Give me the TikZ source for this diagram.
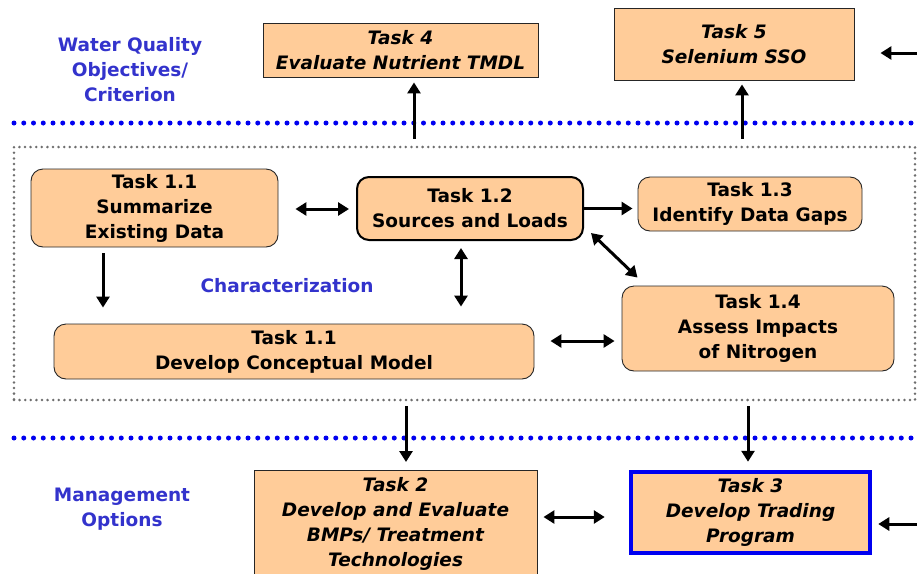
\documentclass[tikz,border=0pt]{standalone}
\usepackage{fontspec}
\setmainfont{DejaVu Sans}
\usetikzlibrary{arrows.meta}
\definecolor{peach}{RGB}{255,204,153}
\definecolor{lblue}{RGB}{51,51,204}
\definecolor{dotblue}{RGB}{0,0,240}
\definecolor{dotgray}{RGB}{110,110,110}
\tikzset{
  box/.style={draw=black!85, line width=0.9pt, fill=peach, align=center, inner sep=0pt,
    font=\bfseries\fontsize{18.5}{25}\selectfont},
  rbox/.style={box, rounded corners=12pt},
  ibox/.style={box, font=\bfseries\itshape\fontsize{18.5}{25}\selectfont},
  lab/.style={text=lblue, align=center, font=\bfseries\fontsize{18.5}{25}\selectfont},
  arr/.style={line width=3pt, -{Triangle[length=11pt,width=13pt]}},
  dbl/.style={line width=3pt, {Triangle[length=11pt,width=13pt]}-{Triangle[length=11pt,width=13pt]}},
  bluedots/.style={dotblue, line width=5pt, line cap=round, dash pattern=on 0pt off 9.75pt},
  graydots/.style={draw=dotgray, line width=2.8pt, line cap=round, dash pattern=on 0pt off 5.6pt},
}
\begin{document}
\begin{tikzpicture}[x=1pt,y=-1pt]
\useasboundingbox (0,0) rectangle (917,573);
% dotted separators
\draw[bluedots] (14,123) -- (917,123);
\draw[bluedots] (14,438) -- (917,438);
\node[graydots, minimum width=901pt, minimum height=253pt, inner sep=0pt] (char) at (464.5,273.5) {};
% labels
\node[lab] (wq) at (130,70) {Water Quality\\Objectives/\\Criterion};
\node[lab] (mo) at (122,509) {Management\\Options};
\node[lab] (ch) at (287,286) {Characterization};
% boxes
\node[ibox, minimum width=275pt, minimum height=54pt] (t4) at (400.5,50) {Task 4\\Evaluate Nutrient TMDL};
\node[ibox, minimum width=240pt, minimum height=72pt] (t5) at (734,44) {Task 5\\Selenium SSO};
\node[rbox, minimum width=247pt, minimum height=78pt] (t11) at (154.5,208) {Task 1.1\\Summarize\\Existing Data};
\node[rbox, line width=2pt, draw=black, minimum width=226pt, minimum height=63pt] (t12) at (470,208.5) {Task 1.2\\Sources and Loads};
\node[rbox, minimum width=224pt, minimum height=54pt] (t13) at (750,204) {Task 1.3\\Identify Data Gaps};
\node[rbox, minimum width=272pt, minimum height=85pt] (t14) at (758,328.5) {Task 1.4\\Assess Impacts\\of Nitrogen};
\node[rbox, minimum width=480pt, minimum height=55pt] (tcm) at (294,351.5) {Task 1.1\\Develop Conceptual Model};
\node[ibox, minimum width=283pt, minimum height=108pt, anchor=north] (t2) at (395.5,470) {Task 2\\Develop and Evaluate\\BMPs/ Treatment\\Technologies};
\node[ibox, draw=dotblue, line width=4.5pt, minimum width=239pt, minimum height=81pt] (t3) at (750.5,512.5) {Task 3\\Develop Trading\\Program};
% edge coordinates
\coordinate (e5) at (917,53);
\coordinate (e3) at (917,524);
% connectors
\draw[dbl] ([xshift=17pt,yshift=-1pt]t11.east) -- ([xshift=-7pt,yshift=-0.5pt]t12.west);
\draw[arr] ([xshift=-51.5pt,yshift=-6pt]t11.south) -- ([xshift=-191pt,yshift=16pt]tcm.north);
\draw[dbl] ([xshift=-9pt,yshift=-7pt]t12.south) -- ([xshift=167pt,yshift=17pt]tcm.north);
\draw[arr] (t12.east) -- ([xshift=-5pt]t12.east -| t13.west);
\draw[dbl] ([xshift=7pt,yshift=8pt]t12.south east) -- ([xshift=16pt,yshift=8pt]t14.north west);
\draw[dbl] ([xshift=16pt,yshift=10.5pt]tcm.east) -- ([xshift=-7pt,yshift=-12.5pt]t14.west);
\draw[arr] ([xshift=-50.5pt,yshift=7pt]char.north) -- ([xshift=13.5pt,yshift=-5pt]t4.south);
\draw[arr] ([xshift=277.5pt,yshift=7pt]char.north) -- ([xshift=8pt,yshift=-4pt]t5.south);
\draw[arr] ([xshift=-58.5pt,yshift=-5pt]char.south) -- ([xshift=10.5pt,yshift=8pt]t2.north);
\draw[arr] ([xshift=283.5pt,yshift=-5pt]char.south) -- ([xshift=-2.5pt,yshift=8pt]t3.north);
\draw[dbl] ([xshift=6pt,yshift=-4.5pt]t2.east |- t3.west) -- ([xshift=-24pt,yshift=-4.5pt]t3.west);
\draw[arr] (e5) -- ([xshift=26pt,yshift=-9pt]t5.east);
\draw[arr] (e3) -- ([xshift=6pt,yshift=-11.5pt]t3.east);
\end{tikzpicture}
\end{document}
